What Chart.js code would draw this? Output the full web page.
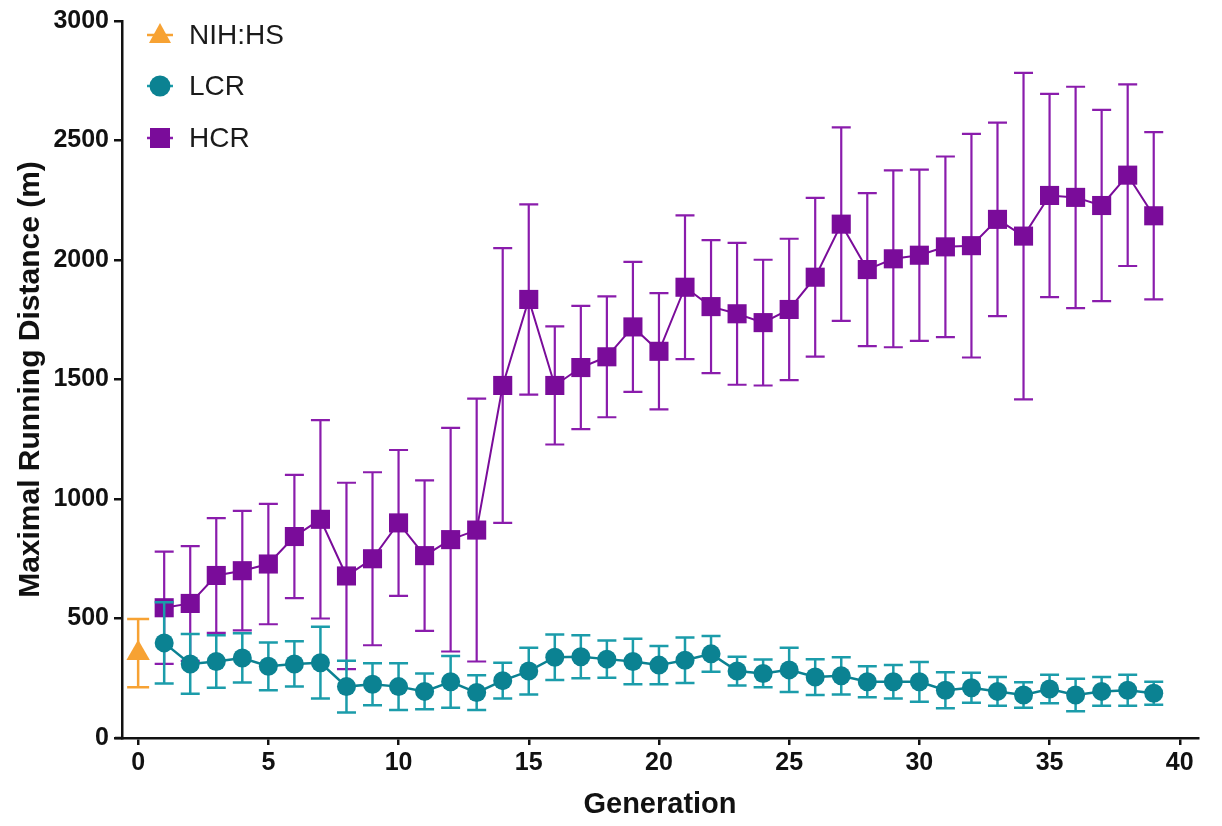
<!DOCTYPE html>
<html>
<head>
<meta charset="utf-8">
<script src="https://cdn.jsdelivr.net/npm/chart.js@4.4.1/dist/chart.umd.min.js"></script>
<style>
  body { margin: 0; background: #fff; }
  #wrap { width: 1222px; height: 826px; }
</style>
</head>
<body>
<div id="wrap"><canvas id="myChart" width="1222" height="826"></canvas></div>
<script>
// generations 1..39 for the selected lines, founder population at 0
const generations = [1,2,3,4,5,6,7,8,9,10,11,12,13,14,15,16,17,18,19,20,
    21,22,23,24,25,26,27,28,29,30,31,32,33,34,35,36,37,38,39];

const hcrMean = [545,563,680,700,728,843,915,678,750,900,763,830,870,1475,1835,1475,1550,1595,1720,1618,
    1886,1805,1775,1738,1793,1928,2150,1960,2005,2020,2055,2060,2170,2100,2270,2262,2228,2355,2185];
const hcrSD = [235,240,240,250,252,258,415,390,362,305,315,468,550,575,398,247,258,253,272,243,
    301,278,297,263,296,332,405,320,370,358,378,468,405,683,425,463,400,380,350];

const lcrMean = [398,310,320,335,300,310,315,215,225,215,195,235,190,240,280,338,340,330,320,305,
    325,352,280,270,285,255,260,235,235,235,200,210,195,180,205,180,195,200,187];
const lcrSD = [170,125,110,103,100,95,150,108,88,98,75,108,73,75,98,95,90,78,95,80,
    95,75,60,58,93,75,78,65,70,83,75,63,60,53,60,68,60,65,48];

const nihGen = [0];
const nihMean = [355];
const nihSD = [143];

const xTicks = [0,5,10,15,20,25,30,35,40];
const yTicks = [0,500,1000,1500,2000,2500,3000];

const legendLabels = ['NIH:HS', 'LCR', 'HCR'];

const orange = '#F7A233';
const teal = '#0B8292';
const tealBar = '#1B9CAA';
const purple = '#7A0C9A';
const purpleBar = '#8A1CAC';

function pts(xs, ys) {
    return xs.map((g, i) => ({x: g, y: ys[i]}))
}

// error bars drawn under each dataset's points
const errorBars = {
    id: 'errorBars',
    beforeDatasetDraw(chart, args) {
        const ds = chart.data.datasets[args.index]
        if (!ds.sd) return
        const ctx = chart.ctx
        const y = chart.scales.y
        const meta = args.meta
        ctx.save()
        ctx.strokeStyle = ds.barColor
        ctx.lineWidth = ds.barWidth
        meta.data.forEach((pt, i) => {
            const v = ds.data[i].y
            const top = y.getPixelForValue(v + ds.sd[i])
            const bot = y.getPixelForValue(v - ds.sd[i])
            const half = ds.capWidth / 2
            ctx.beginPath()
            ctx.moveTo(pt.x, top)
            ctx.lineTo(pt.x, bot)
            ctx.moveTo(pt.x - half, top)
            ctx.lineTo(pt.x + half, top)
            ctx.moveTo(pt.x - half, bot)
            ctx.lineTo(pt.x + half, bot)
            ctx.stroke()
        })
        ctx.restore()
    }
}

// legend in the upper left of the plot, plus the short stub of the x axis
const innerLegend = {
    id: 'innerLegend',
    afterDraw(chart) {
        const ctx = chart.ctx
        const area = chart.chartArea
        ctx.save()
        ctx.strokeStyle = '#111'
        ctx.lineWidth = 2.5
        ctx.beginPath()
        ctx.moveTo(area.left - 7, area.bottom)
        ctx.lineTo(area.left, area.bottom)
        ctx.stroke()

        const cx = 160
        const rows = [35, 86, 138]
        const cols = [orange, teal, purple]
        const bars = [orange, tealBar, purpleBar]
        legendLabels.forEach((label, i) => {
            const cy = rows[i]
            ctx.strokeStyle = bars[i]
            ctx.lineWidth = 2.5
            ctx.beginPath()
            ctx.moveTo(cx - 13, cy)
            ctx.lineTo(cx + 13, cy)
            ctx.stroke()
            ctx.fillStyle = cols[i]
            ctx.beginPath()
            if (i === 0) {
                ctx.moveTo(cx, cy - 12)
                ctx.lineTo(cx + 11, cy + 8)
                ctx.lineTo(cx - 11, cy + 8)
                ctx.closePath()
            } else if (i === 1) {
                ctx.arc(cx, cy, 10.5, 0, Math.PI * 2)
            } else {
                ctx.rect(cx - 10, cy - 10, 20, 20)
            }
            ctx.fill()
            ctx.fillStyle = '#1a1a1a'
            ctx.font = '28px "Liberation Sans", Arial, sans-serif'
            ctx.textBaseline = 'middle'
            ctx.textAlign = 'left'
            ctx.fillText(label, 189, cy + 1)
        })
        ctx.restore()
    }
}

const data = {
    datasets: [{
        label: 'NIH:HS',
        data: pts(nihGen, nihMean),
        sd: nihSD,
        barColor: orange,
        barWidth: 2.5,
        capWidth: 22,
        showLine: false,
        pointStyle: 'triangle',
        pointRadius: 13.5,
        backgroundColor: orange,
        borderColor: orange,
        borderWidth: 0,
    }, {
        label: 'LCR',
        data: pts(generations, lcrMean),
        sd: lcrSD,
        barColor: tealBar,
        barWidth: 2.5,
        capWidth: 19,
        pointStyle: 'circle',
        pointRadius: 9.5,
        backgroundColor: teal,
        borderColor: teal,
        pointBorderWidth: 0,
        borderWidth: 2.5,
    }, {
        label: 'HCR',
        data: pts(generations, hcrMean),
        sd: hcrSD,
        barColor: purpleBar,
        barWidth: 2.2,
        capWidth: 19,
        pointStyle: 'rect',
        pointRadius: 13.5,
        backgroundColor: purple,
        borderColor: purple,
        pointBorderWidth: 0,
        borderWidth: 2,
    }]
};

const tickFont = {family: '"Liberation Sans", Arial, sans-serif', size: 25, weight: 'bold'}

const config = {
    type: 'line',
    data: data,
    options: {
        responsive: false,
        animation: false,
        clip: false,
        layout: {padding: {top: 21, right: 24, left: 0, bottom: 0}},
        plugins: {legend: {display: false}, tooltip: {enabled: false}},
        scales: {
            x: {
                type: 'linear',
                min: -0.62,
                max: 40.7,
                afterBuildTicks: s => { s.ticks = xTicks.map(v => ({value: v})) },
                afterFit: s => { s.height = 88 },
                grid: {display: true, drawOnChartArea: false, drawTicks: true, tickLength: 7, color: '#111', lineWidth: 2.5},
                border: {display: true, color: '#111', width: 2.5},
                ticks: {color: '#111', font: tickFont, padding: 3, maxRotation: 0, callback: v => String(v)},
                title: {
                    display: true,
                    text: 'Generation',
                    color: '#111',
                    font: {family: '"Liberation Sans", Arial, sans-serif', size: 29, weight: 'bold'},
                    padding: {top: 4, bottom: 4}
                }
            },
            y: {
                min: 0,
                max: 3000,
                afterBuildTicks: s => { s.ticks = yTicks.map(v => ({value: v})) },
                afterFit: s => { s.width = 122 },
                grid: {display: true, drawOnChartArea: false, drawTicks: true, tickLength: 8, color: '#111', lineWidth: 2.5},
                border: {display: true, color: '#111', width: 2.5},
                ticks: {color: '#111', font: tickFont, padding: 5, callback: v => String(v)},
                title: {
                    display: true,
                    text: 'Maximal Running Distance (m)',
                    color: '#111',
                    font: {family: '"Liberation Sans", Arial, sans-serif', size: 30, weight: 'bold'},
                    padding: {top: 13, bottom: 0}
                }
            }
        }
    },
    plugins: [errorBars, innerLegend]
};

const myChart = new Chart(
    document.getElementById('myChart'),
    config
);
</script>
</body>
</html>
